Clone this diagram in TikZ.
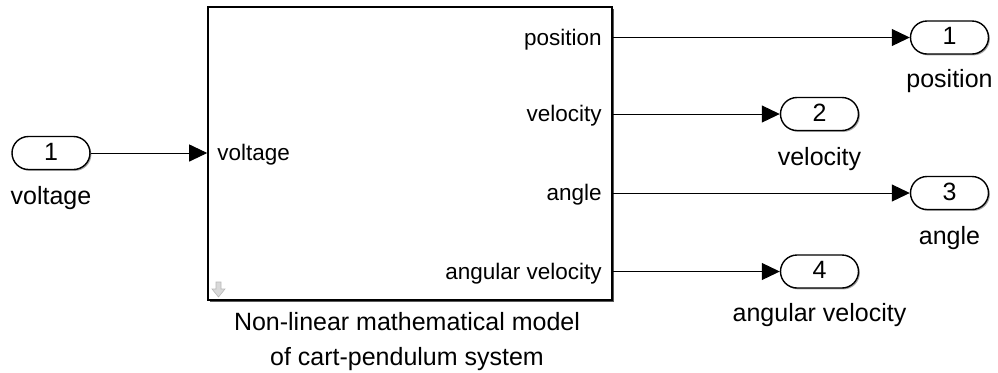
\documentclass[tikz,border=0pt]{standalone}
\usepackage{fontspec}
\setmainfont{Liberation Sans}
\usetikzlibrary{arrows.meta,shadows}

\begin{document}
\begin{tikzpicture}[x=0.5pt, y=-0.5pt, >={Triangle[length=9pt,width=8.5pt]},
    port/.style={draw, line width=0.7pt, rounded corners=8.25pt,
        minimum width=39pt, minimum height=16.5pt, inner sep=0pt, fill=white,
        text height=1.38ex, text depth=0pt, font=\fontsize{12.5}{15}\selectfont,
        drop shadow={shadow xshift=0.7pt, shadow yshift=-0.7pt, fill=black!35, opacity=1}},
    portname/.style={anchor=base, font=\fontsize{12.5}{15}\selectfont},
    signal/.style={inner sep=0pt, text height=1.5ex, text depth=0pt,
        font=\fontsize{11.25}{13}\selectfont},
    wire/.style={->, line width=0.5pt}]

    \useasboundingbox (0,0) rectangle (998,372);

    % subsystem block
    \node[draw, line width=0.8pt, fill=white, minimum width=202pt,
        minimum height=146.5pt, inner sep=0pt,
        drop shadow={shadow xshift=1.1pt, shadow yshift=-1.1pt, fill=black!65, opacity=1}]
        (model) at (410,153.5) {};
    \filldraw[gray!30, draw=gray!55, line width=0.3pt]
        (216,282) -- (221,282) -- (221,289) -- (225,289) -- (218.5,297)
        -- (212,289) -- (216,289) -- cycle;

    \node[signal, anchor=west] (lvolt) at (217,153) {voltage};
    \node[signal, anchor=east] (lpos) at (602,37.5) {position};
    \node[signal, anchor=east] (lvel) at (602,114) {velocity};
    \node[signal, anchor=east] (lang) at (602,193) {angle};
    \node[signal, anchor=east] (langvel) at (602,271.5) {angular velocity};

    \node[portname, align=center] (caption) at (407,365)
        {Non-linear mathematical model\\[2.3pt] of cart-pendulum system};

    % inport
    \node[port] (in1) at (51,153) {1};
    \node[portname] at (51,204) {voltage};

    % outports
    \node[port] (out1) at (949.5,37.5) {1};
    \node[port] (out2) at (819.5,114) {2};
    \node[port] (out3) at (949.5,193) {3};
    \node[port] (out4) at (819.5,271.5) {4};
    \node[portname] at (949.5,87) {position};
    \node[portname] at (819.5,165.5) {velocity};
    \node[portname] at (949.5,244.5) {angle};
    \node[portname] at (819.5,321.5) {angular velocity};

    \draw[wire] (in1.east) -- (model.west |- in1.east);
    \draw[wire] (model.east |- out1.west) -- (out1.west);
    \draw[wire] (model.east |- out2.west) -- (out2.west);
    \draw[wire] (model.east |- out3.west) -- (out3.west);
    \draw[wire] (model.east |- out4.west) -- (out4.west);
\end{tikzpicture}
\end{document}
